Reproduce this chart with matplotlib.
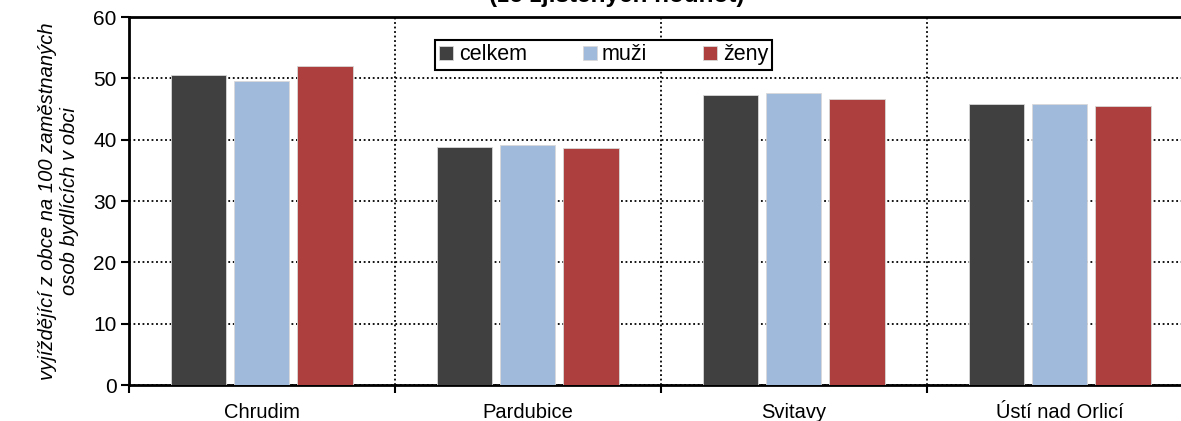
import matplotlib.pyplot as plt
import numpy as np

plt.rcParams['font.family'] = ['Liberation Sans', 'DejaVu Sans']

# data
mesta = ["Chrudim", "Pardubice", "Svitavy", "Ústí nad Orlicí"]
serie = ["celkem", "muži", "ženy"]
celkem = [50.5, 38.8, 47.3, 45.9]
muzi = [49.6, 39.1, 47.6, 45.9]
zeny = [52.0, 38.6, 46.7, 45.5]
barvy = ["#404040", "#A0BADB", "#AD403F"]

fig = plt.figure(figsize=(11.81, 4.21), dpi=100)
ax = fig.add_axes([0.1092, 0.0855, 0.9009, 0.874])

x = np.arange(len(mesta))
sirka = 0.207
krok = 0.237
for i, (hodnoty, jmeno, barva) in enumerate(zip([celkem, muzi, zeny], serie, barvy)):
    ax.bar(x + (i - 1) * krok, hodnoty, width=sirka, color=barva, label=jmeno,
           edgecolor="#d8d8d8", linewidth=0.6, zorder=3)

ax.set_xlim(-0.5, len(mesta) - 0.5)
ax.set_ylim(0, 60)
ax.set_yticks(range(0, 61, 10))
ax.set_xticks(x)
ax.set_xticklabels(mesta)
ax.set_xticks(np.arange(-0.5, len(mesta), 1), minor=True)
ax.tick_params(axis="x", which="major", length=0, pad=13, labelsize=14.5)
ax.tick_params(axis="x", which="minor", length=6, width=1.5, direction="out")
ax.tick_params(axis="y", length=6, width=1.5, direction="out", labelsize=15, pad=3)

ax.grid(axis="y", which="major", linestyle=(0, (1, 1.5)), color="black", linewidth=1.3, zorder=1)
ax.grid(axis="x", which="minor", linestyle=(0, (1, 1.5)), color="black", linewidth=1.3, zorder=1)

for s in ["left", "bottom", "top"]:
    ax.spines[s].set_linewidth(2)
ax.spines["right"].set_visible(False)

ax.set_ylabel("vyjíždějící z obce na 100 zaměstnaných\nosob bydlících v obci",
              fontsize=14.5, style="italic", labelpad=10)

leg = ax.legend(ncol=3, loc="upper left", bbox_to_anchor=(0.2876, 0.9375),
                borderaxespad=0, fontsize=15.5, fancybox=False, framealpha=1,
                edgecolor="black", handlelength=0.65, handleheight=0.65,
                handletextpad=0.25, columnspacing=2.6, borderpad=0.2)
leg.get_frame().set_linewidth(1.5)

fig.text(0.5225, 1 - 7 / 421, "(ze zjištěných hodnot)", ha="center", va="bottom",
         fontsize=17.5, fontweight="bold")

fig.savefig("out.png", dpi=100)
